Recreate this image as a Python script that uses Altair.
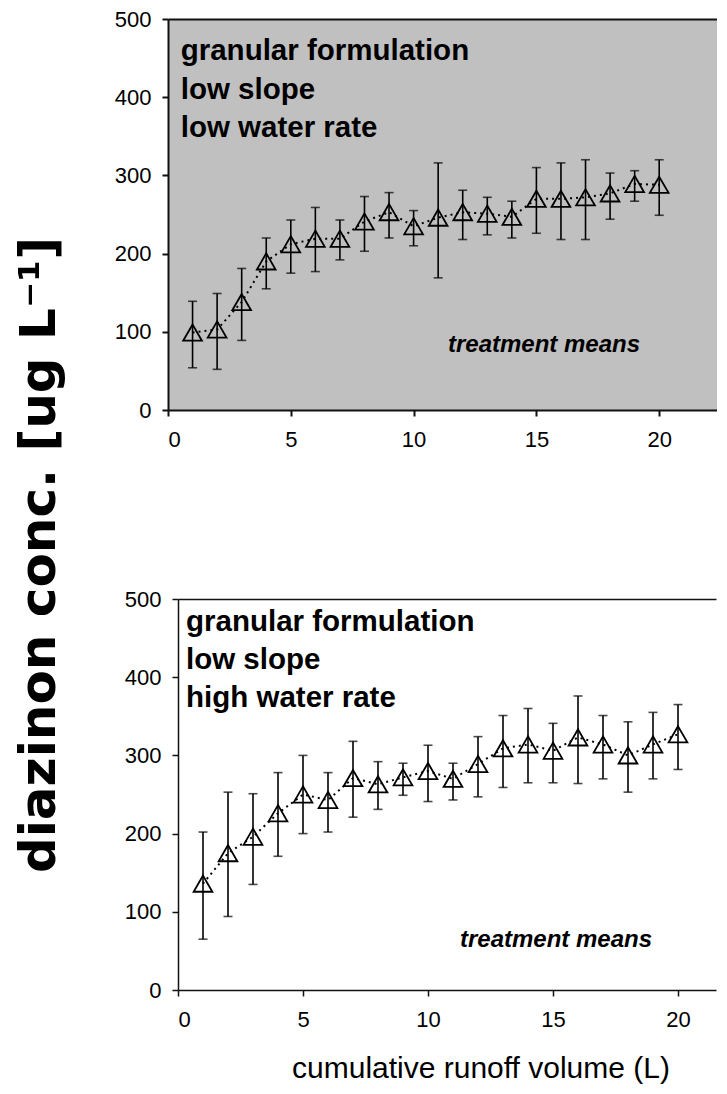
import altair as alt
import pandas as pd

# ---- data ----
x_vals = list(range(1, 21))

top_mean = [99, 103, 138, 190, 212, 219, 219, 241, 253, 235, 246, 253, 251, 247, 270, 270, 272, 277, 289, 288]
top_hi = [139, 149, 181, 220, 243, 259, 243, 273, 278, 255, 316, 281, 272, 267, 310, 316, 320, 303, 306, 320]
top_lo = [54, 52, 89, 155, 175, 177, 192, 203, 220, 210, 169, 218, 224, 220, 226, 218, 218, 244, 267, 249]

bot_mean = [136, 175, 196, 226, 250, 243, 271, 263, 272, 280, 270, 289, 309, 314, 306, 323, 314, 300, 314, 327]
bot_hi = [202, 253, 251, 278, 300, 278, 318, 292, 290, 313, 290, 324, 351, 360, 341, 376, 351, 343, 355, 365]
bot_lo = [65, 94, 135, 171, 200, 202, 221, 231, 249, 241, 243, 247, 259, 265, 265, 264, 270, 253, 270, 282]

x_ticks = [0, 5, 10, 15, 20]
y_ticks = [0, 100, 200, 300, 400, 500]

top_lines = ["granular formulation", "low slope", "low water rate"]
bot_lines = ["granular formulation", "low slope", "high water rate"]
note_text = "treatment means"
y_title = "diazinon conc. [ug L\u207b\u00b9]"
x_title = "cumulative runoff volume (L)"

FONT = "Liberation Sans"
one = pd.DataFrame({"a": [0]})


def panel(df, xmax, width, lines, lx, ly0, lstep, tmx, tmy, axw, xtitle, fill):
    xs = alt.Scale(domain=[0, xmax], nice=False, zero=False)
    ys = alt.Scale(domain=[0, 500], nice=False, zero=False)
    xaxis = alt.Axis(values=x_ticks, format="d", tickSize=6, tickWidth=axw, domainWidth=axw,
                     domainColor="#111111", tickColor="#111111", labelPadding=13,
                     labelFontSize=22, labelFont=FONT, labelColor="black", grid=False,
                     title=None, orient="bottom")
    yaxis = alt.Axis(values=y_ticks, format="d", tickSize=6, tickWidth=axw, domainWidth=axw,
                     domainColor="#111111", tickColor="#111111", labelPadding=11,
                     labelFontSize=22, labelFont=FONT, labelColor="black", grid=False, title=None,
                     orient="left")
    topaxis = alt.Axis(orient="top", labels=False, ticks=False, title=None, grid=False,
                       domainColor="#111111", domainWidth=axw)

    base = alt.Chart(df)
    line = base.mark_line(strokeDash=[2, 4], color="black", strokeWidth=2).encode(
        x=alt.X("x:Q", scale=xs, axis=xaxis), y=alt.Y("mean:Q", scale=ys, axis=yaxis))
    rules = base.mark_rule(color="black", strokeWidth=1.6).encode(
        x=alt.X("x:Q", scale=xs, axis=topaxis), y=alt.Y("lo:Q", scale=ys, axis=yaxis), y2="hi:Q")
    cap_lo = base.mark_tick(orient="horizontal", size=9, thickness=1.6, color="black").encode(
        x=alt.X("x:Q", scale=xs, axis=None), y=alt.Y("lo:Q", scale=ys, axis=yaxis))
    cap_hi = base.mark_tick(orient="horizontal", size=9, thickness=1.6, color="black").encode(
        x=alt.X("x:Q", scale=xs, axis=None), y=alt.Y("hi:Q", scale=ys, axis=yaxis))
    pts = base.mark_point(shape="triangle-up", filled=False, size=350, color="black",
                          strokeWidth=1.8, opacity=1).encode(
        x=alt.X("x:Q", scale=xs, axis=None), y=alt.Y("mean:Q", scale=ys, axis=yaxis))

    layers = [line, rules, cap_lo, cap_hi, pts]
    for i, t in enumerate(lines):
        layers.append(alt.Chart(one).mark_text(text=t, font=FONT, fontSize=29.5, fontWeight="bold",
                                               align="left", baseline="alphabetic", color="black")
                      .encode(x=alt.value(lx), y=alt.value(ly0 + i * lstep)))
    layers.append(alt.Chart(one).mark_text(text=note_text, font=FONT, fontSize=24, fontWeight="bold",
                                           fontStyle="italic", align="center", baseline="alphabetic",
                                           color="black")
                  .encode(x=alt.value(tmx), y=alt.value(tmy)))
    if xtitle:
        layers.append(alt.Chart(one).mark_text(text=xtitle, font=FONT, fontSize=30,
                                               align="center", baseline="alphabetic", color="black")
                      .encode(x=alt.value(303), y=alt.value(391 + 88)))
    ch = alt.layer(*layers).resolve_axis(x="independent", y="shared").properties(
        width=width, height=391, view=alt.ViewBackground(fill=fill, stroke=None))
    return ch


def spacer(w):
    return alt.Chart(one).mark_rect(opacity=0).encode(
        x=alt.value(0), x2=alt.value(w), y=alt.value(0), y2=alt.value(1)
    ).properties(width=w, height=1)


df_top = pd.DataFrame({"x": x_vals, "mean": top_mean, "lo": top_lo, "hi": top_hi})
df_bot = pd.DataFrame({"x": x_vals, "mean": bot_mean, "lo": bot_lo, "hi": bot_hi})

top = panel(df_top, 549 / 24.56, 549, top_lines, 12.7, 41, 38.5, 376, 333, 2, None, "#c0c0c0")
bot = panel(df_bot, 538 / 25.0, 538, bot_lines, 8, 32.2, 38, 378, 347.5, 1.5, x_title, "white")

title_chart = alt.Chart(one).mark_text(text=y_title, angle=270, font="DejaVu Sans", fontSize=50,
                                       fontWeight="bold", align="center", baseline="middle",
                                       color="black").encode(
    x=alt.value(32), y=alt.value(536)).properties(width=95, height=880)

right = alt.vconcat(alt.hconcat(spacer(11), top, spacing=0),
                    alt.hconcat(spacer(21), bot, spacing=0), spacing=138)
chart = alt.hconcat(title_chart, right, spacing=0).properties(
    padding={"left": 0, "top": 0, "right": 0, "bottom": 0}
).configure_view(stroke=None)

chart.save("out.html", embed_options={"renderer": "svg", "actions": False})
